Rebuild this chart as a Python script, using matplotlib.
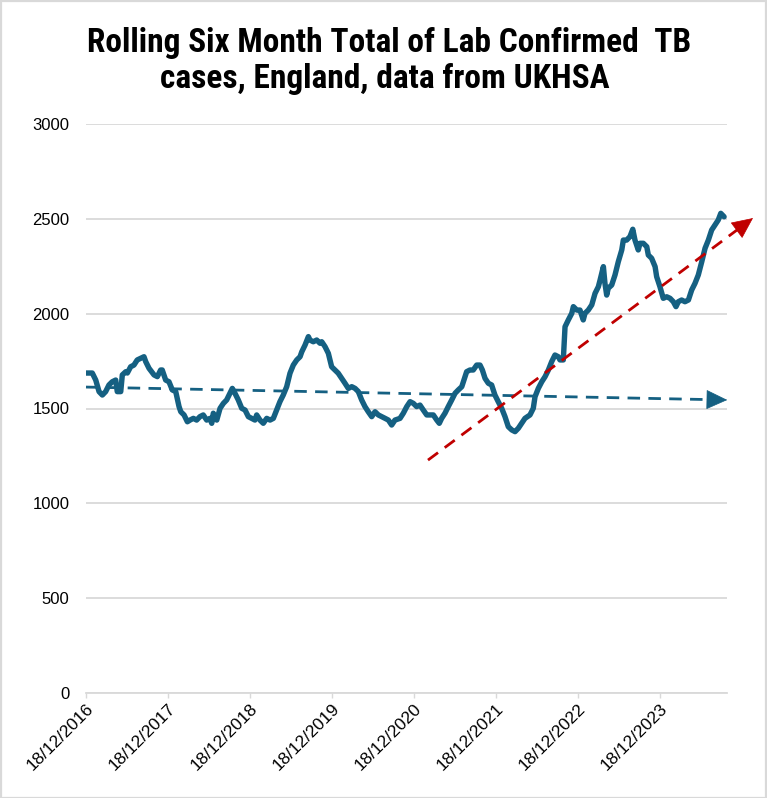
import numpy as np
import pandas as pd
import matplotlib
matplotlib.use("Agg")
import matplotlib.pyplot as plt
import matplotlib.dates as mdates
import matplotlib.font_manager as fm
from matplotlib.patches import Rectangle, FancyArrowPatch

# ---------------- data ----------------
start_date = "2016-12-18"
x_end_date = "2024-10-12"

# weeks after 18/12/2016
weeks = [0, 4.0, 6.2, 8.3, 10.4, 12.5, 14.6, 16.7, 18.9, 19.9, 22.1, 23.1, 25.3, 26.3,
         28.4, 30.5, 32.6, 34.8, 36.9, 38.0, 40.1, 43.3, 45.4, 47.5, 48.5, 50.7, 52.8,
         54.9, 57.1, 59.2, 60.3, 62.4, 64.5,
         66.2, 68.3, 70.4, 72.5, 74.6, 76.8, 78.9, 80.0, 81.0, 83.2, 85.3, 87.4, 89.5,
         91.6, 93.1, 94.8, 96.9, 99.1, 101.2, 103.3, 105.4, 107.5, 108.6, 110.7, 112.8,
         115.0, 117.1, 119.2, 121.3, 123.4, 125.5, 127.7, 129.8,
         131.9, 134.1, 136.2, 137.3, 139.4, 141.5, 142.5, 144.6, 146.8, 148.9, 150.0,
         152.1, 154.2, 156.3, 158.4, 160.5, 162.7, 164.8, 166.9, 169.1, 171.2, 173.3,
         175.4, 177.5, 179.6, 181.8, 183.9, 186.0, 188.2, 190.3, 192.4, 194.5, 196.6,
         199.8, 201.9, 204.1, 206.2, 208.3, 210.4, 212.5, 214.6, 216.8, 218.9, 221.0,
         223.2, 224.8, 226.3, 228.4, 230.5, 232.7, 234.8, 236.9, 239.1, 241.2, 242.2,
         244.3, 246.4, 248.6, 250.7, 252.2, 253.9, 256.0, 258.1, 260.2, 262.3, 264.5,
         266.6, 268.7, 270.9, 273.0,
         275.1, 277.2, 279.3, 282.5, 284.6, 285.7, 287.8, 290.0, 292.1, 294.2, 296.3,
         298.4, 300.5, 301.6, 303.7, 304.8, 306.9, 309.1, 310.1, 312.3, 314.3, 316.4,
         317.5, 319.6, 321.8, 323.9, 326.0, 327.1,
         329.2, 330.2, 331.3, 332.3, 334.5, 336.6, 338.7, 340.9, 341.9, 344.0, 346.1,
         347.9, 349.3, 351.4, 352.5, 354.6, 356.8, 357.8, 359.9, 362.1, 363.1, 365.2,
         367.3, 369.5, 371.6, 373.7, 375.4, 376.9, 379.0, 381.1, 383.3, 385.4, 387.5,
         389.6, 391.8, 393.9, 396.0, 398.1, 400.2, 402.3, 403.9, 406.0]

cases = [1687, 1687, 1650, 1589, 1571, 1589, 1624, 1641, 1650, 1589, 1589, 1677, 1694, 1687,
         1720, 1729, 1756, 1765, 1773, 1747, 1712, 1677, 1668, 1703, 1703, 1650, 1641,
         1598, 1589, 1510, 1483, 1466, 1430,
         1439, 1448, 1439, 1457, 1466, 1439, 1448, 1422, 1475, 1439, 1501, 1527, 1545,
         1580, 1606, 1580, 1545, 1501, 1492, 1457, 1448, 1439, 1466, 1439, 1422,
         1448, 1439, 1448, 1492, 1536, 1571, 1615, 1686,
         1729, 1756, 1773, 1799, 1835, 1879, 1861, 1852, 1861, 1844, 1852,
         1826, 1791, 1720, 1703, 1686, 1659, 1633, 1606, 1615, 1606, 1589,
         1545, 1510, 1483, 1457, 1483, 1466, 1457, 1448, 1439, 1413, 1439,
         1448, 1475, 1510, 1536, 1527, 1510, 1518, 1492, 1466, 1466, 1466,
         1439, 1422, 1448, 1475, 1510, 1545, 1580, 1598, 1615, 1668, 1694,
         1703, 1703, 1729, 1729, 1703, 1659, 1633, 1624, 1571, 1536, 1501,
         1457, 1404, 1387, 1378,
         1396, 1422, 1448, 1466, 1501, 1562, 1606, 1641, 1668, 1703, 1747,
         1782, 1773, 1756, 1756, 1931, 1967, 2002, 2037, 2019, 2019, 1967,
         2002, 2019, 2046, 2107, 2142, 2177,
         2248, 2160, 2098, 2134, 2151, 2204, 2274, 2336, 2388, 2388, 2406,
         2445, 2388, 2336, 2371, 2371, 2353, 2309, 2292, 2248, 2195, 2142,
         2081, 2089, 2081, 2063, 2037, 2063, 2072, 2063, 2072, 2125, 2160,
         2204, 2274, 2345, 2388, 2441, 2467, 2494, 2529, 2511]

# trend arrows: (weeks, value) start and tip
blue_trend_weeks = [0.0, 408.0]
blue_trend_values = [1613, 1545]
red_trend_weeks = [217.6, 424.4]
red_trend_values = [1228, 2504]

tick_dates = ["2016-12-18", "2017-12-18", "2018-12-18", "2019-12-18",
              "2020-12-18", "2021-12-18", "2022-12-18", "2023-12-18"]
y_ticks = [0, 500, 1000, 1500, 2000, 2500, 3000]

title_lines = ["Rolling Six Month Total of Lab Confirmed  TB",
               "cases, England, data from UKHSA"]

# ---------------- style ----------------
LINE_BLUE = "#156082"
TREND_RED = "#C00000"
GRID = "#D9D9D9"

names = {f.name for f in fm.fontManager.ttflist}
title_font = None
for cand in ["Liberation Sans Narrow", "Roboto Condensed", "Open Sans Condensed",
             "DejaVu Sans Condensed", "Roboto", "Liberation Sans"]:
    if cand in names:
        title_font = cand
        break
label_font = "Liberation Sans" if "Liberation Sans" in names else "DejaVu Sans"

plt.rcParams["font.family"] = [label_font, "DejaVu Sans"]

W, H = 767, 798
fig = plt.figure(figsize=(W / 100, H / 100), dpi=100)
fig.patch.set_facecolor("white")
fig.patches.append(Rectangle((0.5 / W, 0.5 / H), 1 - 1.5 / W, 1 - 1.5 / H,
                             transform=fig.transFigure, fill=False,
                             edgecolor=GRID, linewidth=1.6, zorder=0))

ax = fig.add_axes([86 / W, 1 - 693 / H, (727 - 86) / W, (693 - 124) / H])

t0 = pd.Timestamp(start_date)
def to_dates(wk):
    return t0 + pd.to_timedelta(np.asarray(wk) * 7.0, unit="D")

dates = to_dates(weeks)

# grid
ax.set_ylim(0, 3000)
ax.set_yticks(y_ticks)
ax.yaxis.grid(True, color=GRID, linewidth=1.3)
ax.set_axisbelow(True)

ax.set_xlim(t0, pd.Timestamp(x_end_date))
ax.set_xticks(pd.to_datetime(tick_dates))
ax.xaxis.set_major_formatter(mdates.DateFormatter("%d/%m/%Y"))

for s in ["top", "right", "left"]:
    ax.spines[s].set_visible(False)
ax.spines["bottom"].set_color(GRID)
ax.spines["bottom"].set_linewidth(1.3)

ax.tick_params(axis="y", length=0, pad=12, labelsize=12, labelcolor="#000000")
ax.tick_params(axis="x", direction="out", length=3.5, width=1.0, color=GRID,
               pad=2, labelsize=12.5, labelcolor="#000000")
for lab in ax.get_xticklabels():
    lab.set_rotation(45)
    lab.set_ha("right")
    lab.set_va("top")
    lab.set_rotation_mode("anchor")

# main series
ax.plot(dates, cases, color=LINE_BLUE, linewidth=3.9,
        solid_joinstyle="round", solid_capstyle="round", zorder=3)

# trend arrows
def trend(wk, vals, color):
    d = to_dates(wk)
    x0, x1 = mdates.date2num(d[0]), mdates.date2num(d[1])
    y0, y1 = vals
    p0 = ax.transData.transform((x0, y0))
    p1 = ax.transData.transform((x1, y1))
    L = np.hypot(*(p1 - p0))
    frac = 1 - 16 / L
    xb = x0 + (x1 - x0) * frac
    yb = y0 + (y1 - y0) * frac
    ax.plot([x0, xb], [y0, yb], color=color, linewidth=2.0,
            linestyle=(0, (4.5, 3.0)), clip_on=False, zorder=4,
            dash_capstyle="butt")
    fr2 = 1 - 20 / L
    xs = x0 + (x1 - x0) * fr2
    ys = y0 + (y1 - y0) * fr2
    arr = FancyArrowPatch((xs, ys), (x1, y1),
                          arrowstyle="-|>,head_length=14,head_width=6.5",
                          color=color, linewidth=0.5, mutation_scale=1,
                          shrinkA=0, shrinkB=0, clip_on=False, zorder=5)
    ax.add_patch(arr)

trend(blue_trend_weeks, blue_trend_values, LINE_BLUE)
trend(red_trend_weeks, red_trend_values, TREND_RED)

# title (two lines, bold condensed), fitted to reference width
tkw = dict(fontweight="bold", color="#000000", ha="center", va="baseline")
if title_font:
    tkw["family"] = [title_font, "DejaVu Sans"]
if title_font == "DejaVu Sans Condensed":
    tkw["fontstretch"] = "condensed"
fs = 24
t1 = fig.text(389.5 / W, 1 - 52 / H, title_lines[0], fontsize=fs, **tkw)
t2 = fig.text(384.5 / W, 1 - 88 / H, title_lines[1], fontsize=fs, **tkw)
fig.canvas.draw()
w1 = t1.get_window_extent().width
new_fs = min(fs * 605 / w1, 26)
t1.set_fontsize(new_fs)
t2.set_fontsize(new_fs)

fig.savefig("out.png", dpi=100, facecolor="white")
